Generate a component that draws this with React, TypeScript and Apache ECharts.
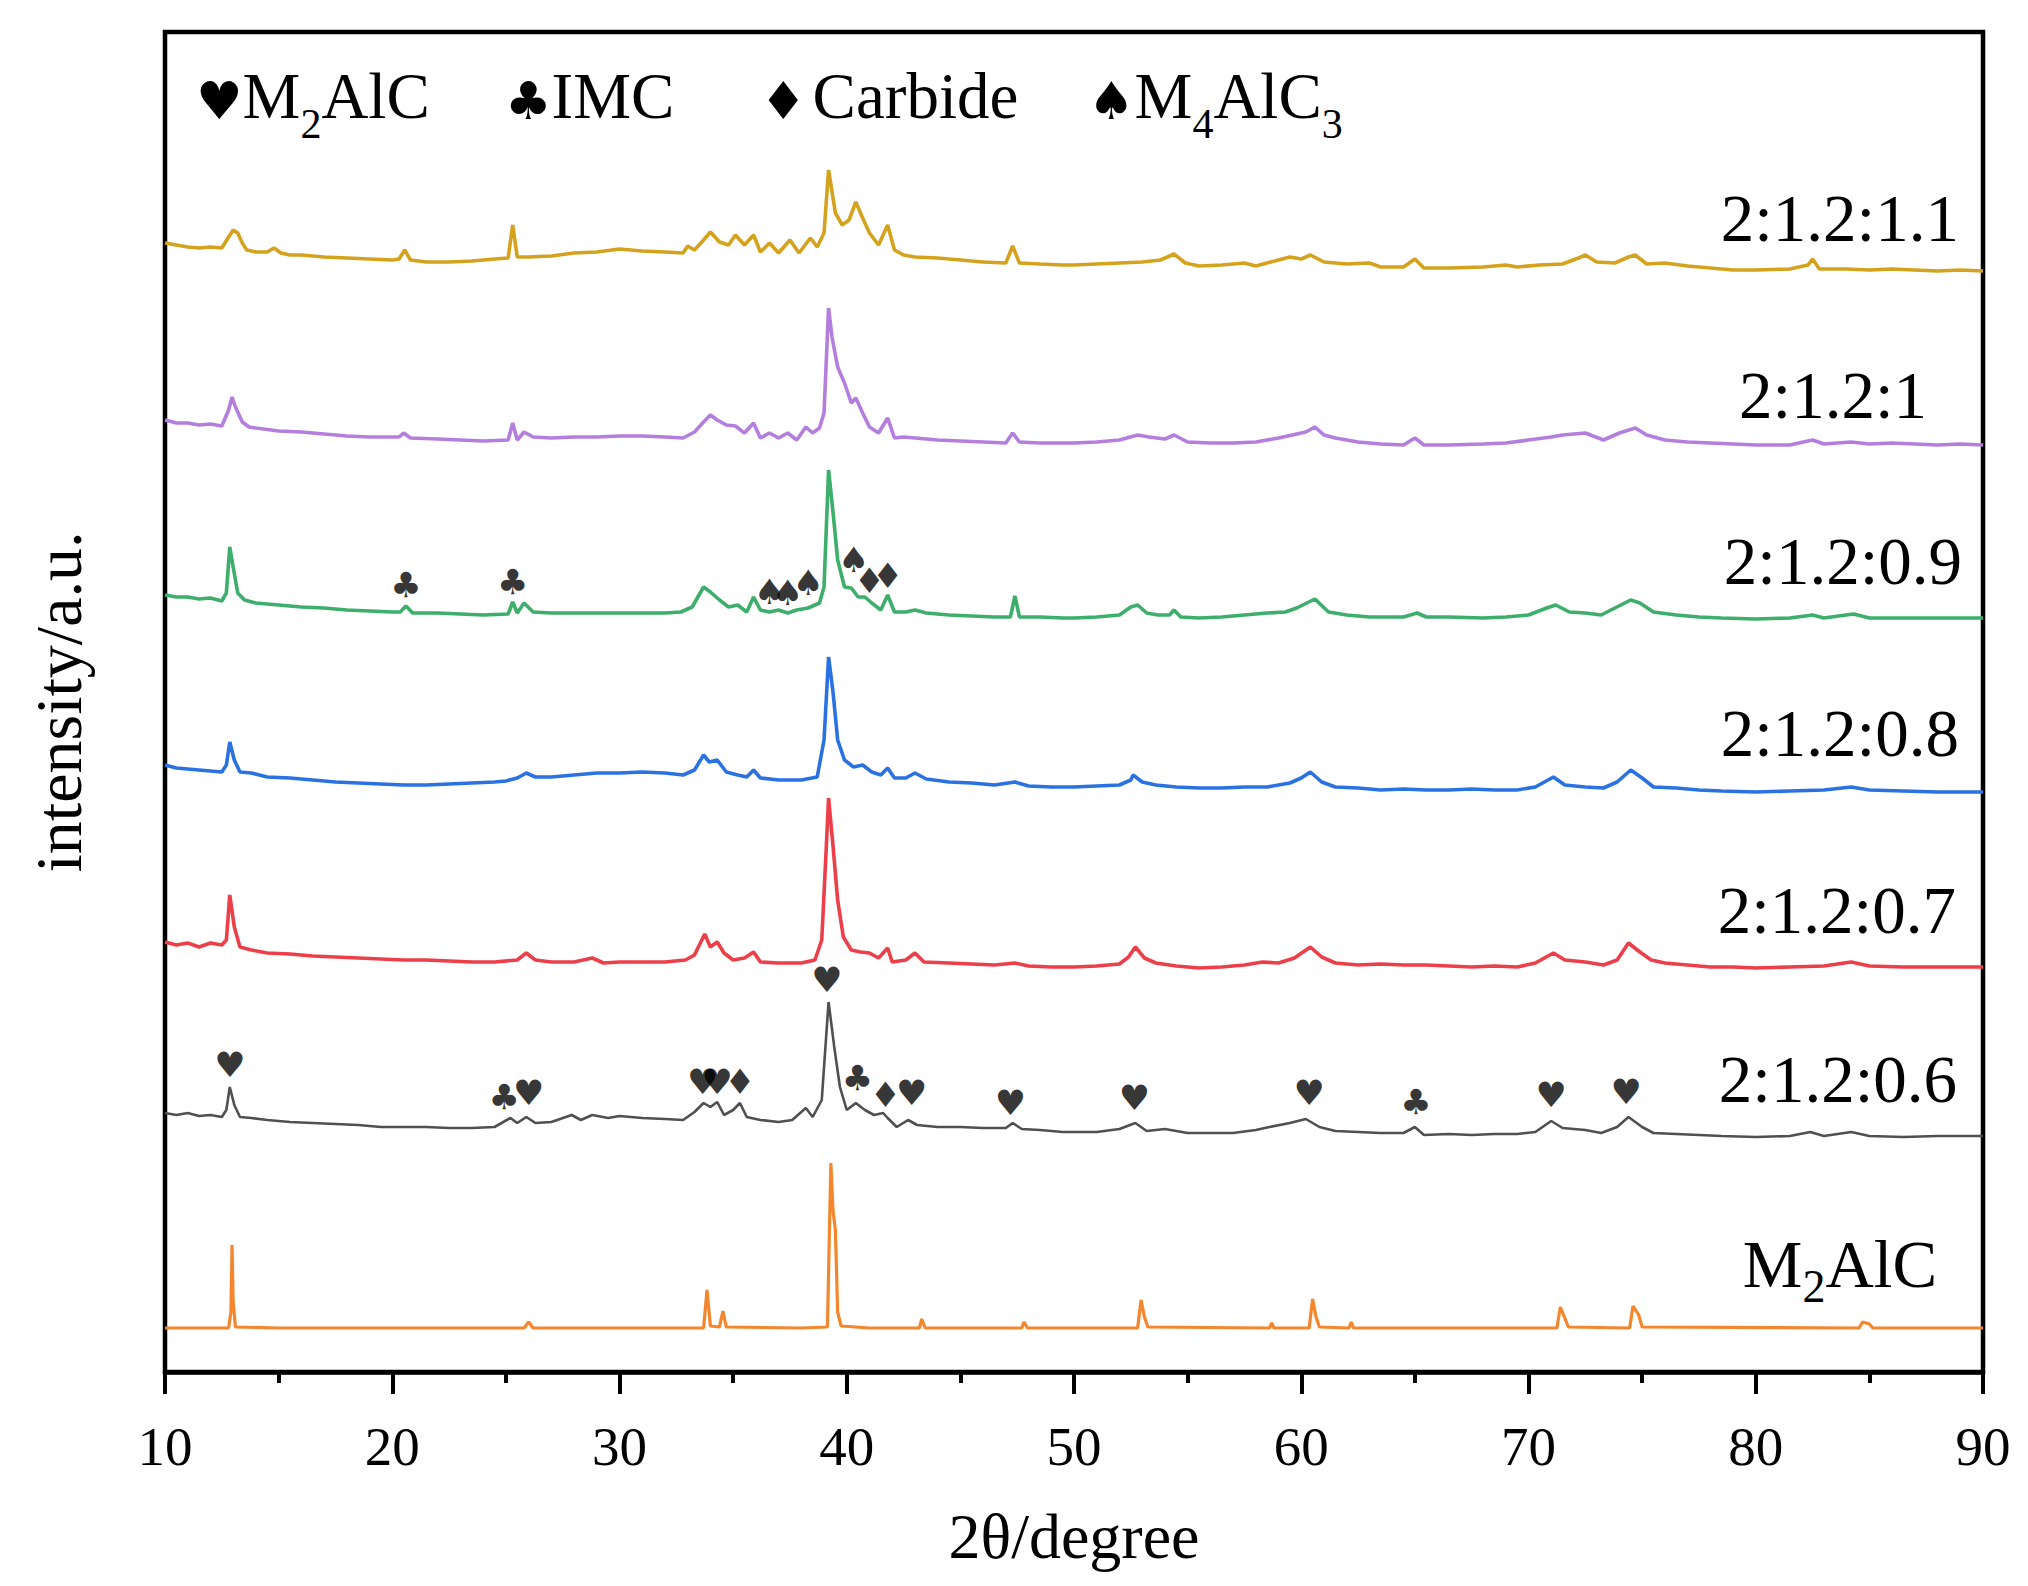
import * as echarts from "echarts";
import { useEffect, useRef } from "react";

const serif = "'Liberation Serif', 'Times New Roman', serif";
const suitFont = "'DejaVu Sans', sans-serif";

// [2θ (degree), intensity (a.u., traces stacked)]
const s11: [number, number][] = [
	[10.0,1129],[10.5,1127],[11.0,1125],[11.5,1124],[12.0,1125],[12.5,1124],[12.8,1135],[13.0,1142],[13.2,1139],[13.4,1129],[13.6,1122],[14.0,1120],[14.5,1120],[14.8,1124],[15.1,1119],[15.5,1117],[16.0,1117],[17.0,1115],[18.0,1114],[19.0,1113],[20.0,1112],[20.3,1113],[20.55,1122],[20.8,1112],[21.5,1110],[22.5,1110],[23.5,1111],[24.5,1113],[25.1,1114],[25.3,1147],[25.5,1115],[26.0,1115],[27.0,1116],[28.0,1119],[29.0,1120],[30.0,1123],[31.0,1121],[32.0,1120],[32.8,1119],[33.0,1126],[33.3,1122],[33.7,1132],[34.0,1140],[34.4,1130],[34.8,1127],[35.1,1137],[35.5,1127],[35.9,1137],[36.2,1120],[36.6,1129],[37.0,1119],[37.5,1132],[37.9,1119],[38.4,1134],[38.7,1125],[39.0,1139],[39.2,1202],[39.5,1159],[39.8,1147],[40.1,1152],[40.4,1170],[40.7,1154],[41.0,1139],[41.4,1127],[41.8,1147],[42.1,1122],[42.5,1117],[43.0,1115],[44.0,1114],[45.0,1112],[46.0,1110],[47.0,1109],[47.3,1126],[47.6,1109],[48.5,1108],[49.5,1107],
	[50.0,1107],[51.0,1108],[52.0,1109],[53.0,1110],[53.8,1112],[54.4,1118],[54.9,1109],[55.5,1106],[56.5,1107],[57.5,1109],[58.0,1106],[59.0,1112],[59.5,1115],[60.0,1113],[60.4,1117],[61.0,1110],[62.0,1108],[63.0,1109],[63.5,1105],[64.5,1105],[65.0,1113],[65.4,1104],[66.5,1104],[68.0,1105],[69.0,1107],[69.5,1105],[70.5,1107],[71.5,1108],[72.2,1114],[72.5,1117],[73.0,1110],[73.8,1109],[74.4,1115],[74.7,1117],[75.2,1108],[76.0,1109],[77.0,1106],[78.0,1104],[79.0,1102],[80.0,1102],[81.5,1103],[82.3,1107],[82.5,1113],[82.8,1103],[84.0,1103],[85.0,1102],[86.0,1103],[87.0,1102],[88.0,1101],[89.0,1102],[90.0,1101],
];

const s10: [number, number][] = [
	[10.0,952],[10.5,949],[11.0,949],[11.5,947],[12.0,948],[12.5,946],[12.8,962],[12.95,975],[13.1,965],[13.4,950],[13.7,945],[14.0,944],[15.0,941],[16.0,940],[17.0,938],[18.0,936],[19.0,935],[20.0,935],[20.3,935],[20.5,939],[20.8,934],[22.0,933],[23.0,932],[24.0,931],[25.1,932],[25.3,949],[25.5,932],[25.8,940],[26.2,935],[27.0,934],[28.0,935],[29.0,935],[30.0,936],[31.0,936],[32.0,935],[32.8,934],[33.3,940],[33.7,950],[34.0,957],[34.3,952],[34.7,947],[35.1,946],[35.5,939],[35.9,949],[36.2,934],[36.6,939],[37.0,934],[37.4,939],[37.8,932],[38.2,945],[38.5,939],[38.8,944],[39.0,959],[39.2,1064],[39.35,1035],[39.6,1005],[39.9,989],[40.2,969],[40.4,974],[40.7,959],[41.0,945],[41.4,939],[41.8,954],[42.1,934],[42.5,935],[43.0,934],[44.0,932],[45.0,931],[46.0,930],[47.0,929],[47.3,939],[47.6,930],[48.5,929],[49.5,929],
	[50.0,929],[51.0,930],[52.0,932],[52.8,937],[53.3,935],[54.0,933],[54.4,937],[55.0,930],[56.0,929],[57.0,929],[58.0,930],[59.0,934],[59.6,937],[60.2,940],[60.6,945],[61.0,937],[61.5,934],[62.5,930],[63.5,928],[64.5,927],[65.0,934],[65.4,927],[66.5,927],[68.0,928],[69.0,929],[70.0,932],[71.0,935],[71.5,937],[72.5,939],[73.3,932],[74.0,939],[74.7,944],[75.2,937],[76.0,932],[77.0,930],[78.0,929],[79.0,928],[80.0,927],[81.5,927],[82.5,932],[83.0,928],[84.2,930],[85.0,928],[86.0,929],[87.0,928],[88.0,927],[89.0,928],[90.0,927],
];

const s09: [number, number][] = [
	[10.0,777],[10.5,775],[11.0,775],[11.5,773],[12.0,774],[12.5,771],[12.7,779],[12.85,825],[13.0,805],[13.2,779],[13.5,772],[14.0,769],[15.0,767],[16.0,765],[17.0,764],[18.0,762],[19.0,761],[20.0,760],[20.35,760],[20.6,766],[20.9,759],[22.0,759],[23.0,758],[24.0,757],[25.1,758],[25.3,770],[25.5,759],[25.8,769],[26.2,760],[27.0,759],[28.0,759],[29.0,759],[30.0,759],[31.0,759],[32.0,759],[32.7,760],[33.2,765],[33.7,785],[34.0,780],[34.4,772],[34.8,765],[35.2,767],[35.6,760],[35.9,775],[36.2,762],[36.6,760],[37.0,762],[37.4,759],[37.8,762],[38.3,764],[38.8,769],[39.0,785],[39.2,902],[39.4,859],[39.6,812],[39.9,785],[40.2,784],[40.5,775],[40.8,775],[41.1,769],[41.5,762],[41.8,777],[42.1,760],[42.6,760],[43.0,762],[43.5,759],[44.5,757],[45.5,756],[46.5,755],[47.2,755],[47.4,776],[47.6,755],[48.5,755],[49.5,754],
	[50.0,754],[51.0,755],[52.0,757],[52.5,765],[52.8,767],[53.2,759],[53.7,757],[54.2,757],[54.4,762],[54.7,755],[55.5,754],[56.5,755],[57.5,757],[58.5,759],[59.3,760],[59.8,764],[60.6,773],[61.2,760],[62.0,757],[63.0,755],[64.5,755],[65.1,759],[65.5,755],[66.5,755],[68.0,754],[69.0,755],[70.0,757],[70.8,764],[71.2,767],[71.8,760],[72.5,759],[73.2,757],[73.8,764],[74.5,772],[74.9,769],[75.5,760],[76.5,757],[77.5,755],[78.5,754],[80.0,753],[81.5,754],[82.5,757],[83.0,754],[84.3,758],[85.0,754],[86.5,754],[88.0,754],[90.0,754],
];

const s08: [number, number][] = [
	[10.0,607],[10.5,604],[11.0,603],[11.5,602],[12.0,601],[12.5,600],[12.7,607],[12.85,630],[13.05,612],[13.3,600],[13.8,599],[14.5,595],[15.5,594],[16.5,592],[17.5,590],[18.5,589],[19.5,588],[20.5,587],[21.5,587],[22.5,588],[23.5,589],[24.5,590],[25.0,591],[25.5,594],[25.9,599],[26.3,595],[27.0,595],[28.0,597],[29.0,599],[30.0,599],[31.0,600],[32.0,599],[32.8,597],[33.3,602],[33.7,617],[33.95,610],[34.3,612],[34.7,600],[35.2,597],[35.6,595],[35.9,602],[36.2,594],[37.0,592],[38.0,592],[38.7,595],[39.0,632],[39.2,715],[39.4,679],[39.6,632],[39.9,612],[40.3,605],[40.7,607],[41.1,600],[41.5,597],[41.8,604],[42.1,594],[42.6,594],[43.0,599],[43.5,593],[44.5,590],[45.5,589],[46.5,587],[47.4,590],[48.0,586],[49.0,585],[49.8,585],
	[50.0,585],[51.0,586],[52.0,587],[52.5,592],[52.6,597],[53.0,590],[53.6,587],[54.5,585],[55.5,584],[56.5,584],[57.5,585],[58.5,585],[59.5,589],[60.0,594],[60.4,600],[60.9,590],[61.5,585],[62.5,584],[63.5,582],[64.5,583],[65.5,582],[66.5,582],[67.5,583],[68.5,582],[69.5,582],[70.3,585],[71.1,595],[71.6,587],[72.5,585],[73.3,584],[73.9,590],[74.5,602],[75.0,594],[75.5,585],[76.5,584],[77.5,582],[78.5,581],[80.0,580],[81.5,581],[83.0,582],[84.2,585],[85.0,582],[86.5,581],[88.0,580],[90.0,580],
];

const s07: [number, number][] = [
	[10.0,430],[10.5,427],[11.0,429],[11.5,425],[12.0,429],[12.5,427],[12.7,432],[12.85,477],[13.05,445],[13.3,425],[13.8,422],[14.5,419],[15.5,418],[16.5,416],[17.5,415],[18.5,414],[19.5,413],[20.5,412],[21.5,412],[22.5,411],[23.5,410],[24.5,410],[25.5,412],[25.9,419],[26.3,412],[27.0,410],[28.0,410],[28.8,414],[29.3,409],[30.0,410],[31.0,410],[32.0,410],[32.9,412],[33.3,417],[33.75,438],[34.0,425],[34.3,430],[34.6,419],[35.0,412],[35.5,414],[35.9,420],[36.2,410],[37.0,409],[38.0,409],[38.6,412],[38.9,432],[39.1,525],[39.2,574],[39.4,525],[39.6,472],[39.85,435],[40.2,422],[40.6,420],[41.0,419],[41.4,414],[41.8,424],[42.0,410],[42.6,412],[43.0,419],[43.4,410],[44.5,409],[45.5,408],[46.5,407],[47.4,409],[48.0,406],[49.0,405],[49.8,405],
	[50.0,405],[51.0,406],[52.0,408],[52.4,415],[52.7,425],[53.1,414],[53.6,409],[54.5,406],[55.5,404],[56.5,405],[57.5,407],[58.3,410],[59.0,409],[59.7,414],[60.4,425],[60.9,415],[61.5,409],[62.5,407],[63.5,408],[64.5,407],[65.5,407],[66.5,406],[67.5,405],[68.5,406],[69.5,405],[70.3,409],[71.1,419],[71.6,412],[72.5,410],[73.3,407],[73.9,412],[74.4,429],[74.9,420],[75.4,412],[76.0,409],[77.0,407],[78.0,405],[79.0,405],[80.0,404],[81.5,405],[83.0,406],[84.2,410],[85.0,406],[86.5,405],[88.0,405],[90.0,405],
];

const s06: [number, number][] = [
	[10.0,259],[10.5,257],[11.0,259],[11.5,256],[12.0,257],[12.5,255],[12.7,262],[12.85,285],[13.05,267],[13.3,255],[13.8,254],[14.5,252],[15.5,250],[16.5,249],[17.5,248],[18.5,247],[19.5,245],[20.5,245],[21.5,245],[22.5,244],[23.5,244],[24.5,245],[25.2,254],[25.5,249],[25.9,255],[26.3,249],[27.0,250],[27.9,257],[28.3,252],[28.8,257],[29.5,254],[30.0,256],[31.0,254],[32.0,253],[32.8,252],[33.3,260],[33.7,269],[34.0,265],[34.3,270],[34.6,257],[35.0,262],[35.3,269],[35.6,255],[36.2,252],[37.0,250],[37.6,252],[38.2,264],[38.5,255],[38.9,272],[39.2,370],[39.45,325],[39.7,285],[40.0,262],[40.4,269],[40.8,262],[41.2,257],[41.6,259],[41.8,254],[42.2,245],[42.7,252],[43.1,247],[44.0,245],[45.0,245],[46.0,244],[47.0,244],[47.3,249],[47.7,243],[48.5,242],[49.5,240],
	[50.0,240],[51.0,240],[52.0,243],[52.7,249],[53.2,241],[54.0,243],[55.0,239],[56.0,239],[57.0,239],[58.0,242],[58.6,245],[59.5,249],[60.2,253],[60.8,245],[61.5,241],[62.5,240],[63.5,239],[64.5,239],[65.0,245],[65.4,237],[66.5,238],[67.5,237],[68.5,238],[69.5,238],[70.3,240],[71.0,251],[71.5,244],[72.5,242],[73.2,239],[73.9,245],[74.4,255],[75.0,245],[75.5,239],[76.5,238],[77.5,237],[78.5,236],[80.0,235],[81.5,236],[82.4,240],[83.0,236],[84.2,240],[85.0,236],[86.5,235],[88.0,236],[90.0,236],
];

const sRef: [number, number][] = [
	[10,44],[12.8,44],[12.9,60],[12.95,127],[13.0,70],[13.1,45],[15,44],[20,44],[25.8,44],[26.0,50],[26.2,44],[30,44],[33.7,44],[33.85,82],[34.0,46],[34.4,45],[34.55,61],[34.7,45],[38,44],[39.15,45],[39.3,209],[39.4,160],[39.5,142],[39.6,60],[39.75,46],[41,44],[43.2,44],[43.3,53],[43.45,44],[47.7,44],[47.8,50],[47.95,44],[52.8,44],[52.95,72],[53.1,55],[53.25,45],[58.6,44],[58.7,49],[58.8,44],[60.35,44],[60.5,73],[60.65,55],[60.8,45],[62.1,44],[62.2,50],[62.3,44],[71.25,44],[71.4,65],[71.6,54],[71.75,45],[74.45,44],[74.6,66],[74.85,57],[75.0,45],[84.55,44],[84.7,50],[85.0,48],[85.15,44],[90,44],
];

const traces = [s11, s10, s09, s08, s07, s06, sRef];
const traceNames = ["2:1.2:1.1", "2:1.2:1", "2:1.2:0.9", "2:1.2:0.8", "2:1.2:0.7", "2:1.2:0.6", "M2AlC"];
const traceColors = ["#D4A21C", "#B47EDE", "#3DAE6B", "#2A72E2", "#EC3F4A", "#505050", "#F4872E"];
const traceWidths = [3.6, 3.6, 3.6, 3.6, 3.6, 2.6, 3.2];
// where each trace name sits (right edge, middle)
const nameAt: [number, number][] = [[88.94,1154],[87.54,977],[89.08,811],[88.94,639],[88.81,462],[88.86,293],[87.98,108]];

// phase peaks: [2θ, height, symbol]
const phaseMarks: [number, number, string][] = [
	[20.6,787,"♣"],[25.3,790,"♣"],[36.6,780,"♠"],[37.4,779,"♠"],[38.3,789,"♠"],[40.3,812,"♠"],[41.0,791,"♦"],[41.8,796,"♦"],
	[12.86,307,"♥"],[24.93,275,"♣"],[26.0,279,"♥"],[33.66,290,"♥"],[34.3,290,"♥"],[35.3,290,"♦"],[39.13,392,"♥"],[40.47,294,"♣"],[41.7,277,"♦"],[42.86,279,"♥"],[47.2,269,"♥"],[52.66,274,"♥"],[60.35,279,"♥"],[65.05,270,"♣"],[71.0,277,"♥"],[74.3,280,"♥"],
];

const legendItems: [number, string][] = [
	[196, "{h|♥}{m|M}{s|2}{m|AlC}"],
	[505, "{h|♣}{m|IMC}"],
	[760, "{d|♦}{m|Carbide}"],
	[1088, "{h|♠}{m|M}{s|4}{m|AlC}{s|3}"],
];

export default function App() {
	const chartRef = useRef<HTMLDivElement>(null);

	useEffect(() => {
		if (!chartRef.current) return;
		document.body.style.margin = "0";
		const chart = echarts.init(chartRef.current, null, { renderer: "svg" });

		const lineSeries = traces.map((data, i) => ({
			name: traceNames[i],
			type: "line",
			data,
			showSymbol: false,
			symbol: "none",
			lineStyle: { color: traceColors[i], width: traceWidths[i] },
			z: 2,
			markPoint: {
				symbol: "circle",
				symbolSize: 0,
				silent: true,
				data: [{ coord: nameAt[i] }],
				label: {
					show: true,
					position: "inside",
					align: "right",
					verticalAlign: "middle",
					color: "#000",
					fontSize: 67,
					fontFamily: serif,
					formatter: i === 6 ? "{m|M}{s|2}{m|AlC}" : traceNames[i],
					rich: {
						m: { fontSize: 67, fontFamily: serif, color: "#000" },
						s: { fontSize: 46, fontFamily: serif, color: "#000", padding: [45, 0, 0, 0] },
					},
				},
			},
		}));

		chart.setOption({
			animation: false,
			backgroundColor: "#fff",
			grid: {
				left: 165,
				right: 45,
				top: 32,
				bottom: 214,
				show: true,
				borderColor: "#000",
				borderWidth: 4.5,
			},
			xAxis: {
				type: "value",
				min: 10,
				max: 90,
				interval: 10,
				name: "2θ/degree",
				nameLocation: "middle",
				nameGap: 132,
				nameTextStyle: { fontSize: 64, fontFamily: serif, color: "#000" },
				axisLine: { show: true, lineStyle: { color: "#000", width: 4.5 } },
				axisTick: { show: true, length: 22, lineStyle: { color: "#000", width: 4 } },
				minorTick: { show: true, splitNumber: 2, length: 11, lineStyle: { color: "#000", width: 4 } },
				axisLabel: { margin: 47, fontSize: 55, fontFamily: serif, color: "#000" },
				splitLine: { show: false },
			},
			yAxis: {
				type: "value",
				min: 0,
				max: 1340,
				name: "intensity/a.u.",
				nameLocation: "middle",
				nameGap: 74,
				nameTextStyle: { fontSize: 66, fontFamily: serif, color: "#000" },
				axisLine: { show: false },
				axisTick: { show: false },
				axisLabel: { show: false },
				splitLine: { show: false },
			},
			graphic: legendItems.map(([x, text]) => ({
				type: "text",
				x,
				y: 96,
				silent: true,
				style: {
					text,
					align: "left",
					verticalAlign: "middle",
					fill: "#000",
					rich: {
						h: { fontSize: 52, fontFamily: suitFont, fill: "#000", padding: [10, 0, 0, 0] },
						d: { fontSize: 52, fontFamily: suitFont, fill: "#000", padding: [10, 6, 0, 0] },
						m: { fontSize: 65, fontFamily: serif, fill: "#000" },
						s: { fontSize: 42, fontFamily: serif, fill: "#000", padding: [56, 0, 0, 0] },
					},
				},
			})),
			series: [
				...lineSeries,
				{
					name: "phases",
					type: "scatter",
					data: phaseMarks,
					symbolSize: 1,
					itemStyle: { color: "rgba(0,0,0,0)" },
					silent: true,
					z: 5,
					label: {
						show: true,
						position: "inside",
						color: "#000",
						fontSize: 35,
						fontFamily: suitFont,
						formatter: (p: any) => p.value[2],
					},
				},
			],
		});

		const onResize = () => chart.resize();
		window.addEventListener("resize", onResize);
		return () => {
			window.removeEventListener("resize", onResize);
			chart.dispose();
		};
	}, []);

	return <div ref={chartRef} style={{ width: 2028, height: 1586 }} />;
}
